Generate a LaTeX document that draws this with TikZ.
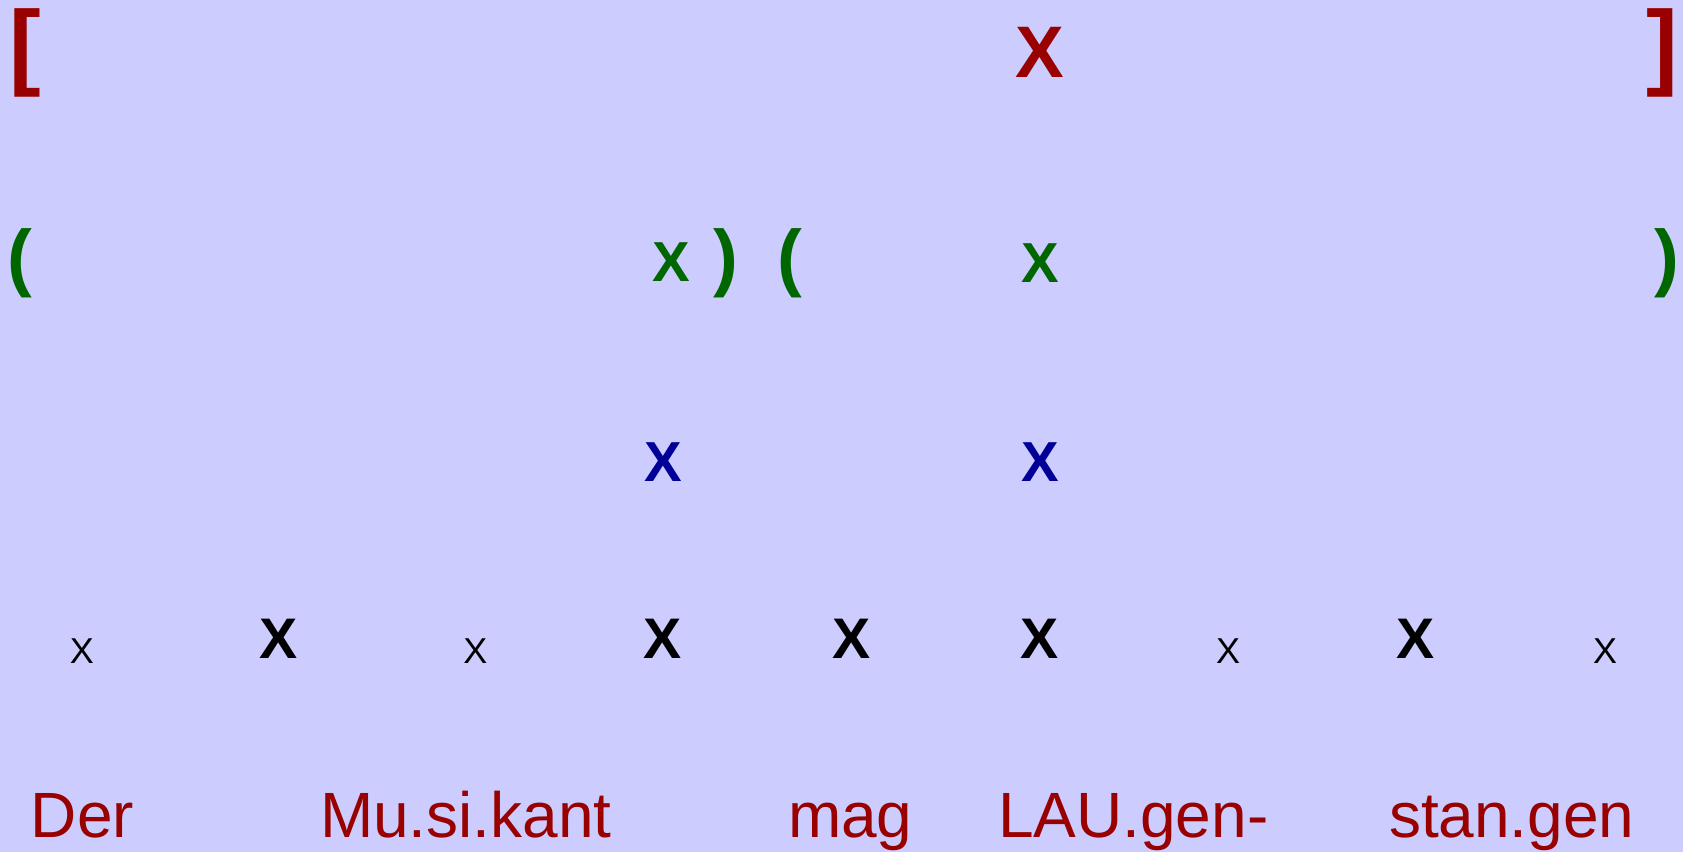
\documentclass[tikz,border=0pt]{standalone}
\usepackage{fontspec}
\setmainfont{Liberation Sans}
\definecolor{bg}{HTML}{CCCCFF}
\definecolor{dred}{HTML}{990000}
\definecolor{dgreen}{HTML}{006600}
\definecolor{dblue}{HTML}{000099}
\begin{document}
\begin{tikzpicture}[x=0.5pt,y=-0.5pt,
  every node/.style={inner sep=0pt, outer sep=0pt},
  bracket/.style={text=dred, font=\fontsize{47.5}{50}\selectfont\bfseries},
  topx/.style={text=dred, font=\fontsize{36.5}{40}\selectfont\bfseries},
  paren/.style={text=dgreen, font=\fontsize{37.2}{40}\selectfont\bfseries},
  greenx/.style={text=dgreen, font=\fontsize{28.2}{30}\selectfont\bfseries},
  bluex/.style={text=dblue, font=\fontsize{28.2}{30}\selectfont\bfseries},
  strongx/.style={text=black, font=\fontsize{28.6}{30}\selectfont\bfseries},
  weakx/.style={text=black, font=\fontsize{18}{20}\selectfont},
  word/.style={text=dred, font=\fontsize{32}{34}\selectfont, anchor=base west}]
\fill[bg] (0,0) rectangle (1683,852);
\useasboundingbox (0,0) rectangle (1683,852);
% top level
\node[bracket] (lb) at (25,52.5) {[};
\node[topx] (tx) at (1039.5,52) {X};
\node[bracket] (rb) at (1662,52.5) {]};
% feet
\node[paren] (lp1) at (19.5,263) {(};
\node[greenx] (g1) at (671.5,262.5) {X};
\node[paren] (rp1) at (725.5,263) {)};
\node[paren] (lp2) at (789.5,263) {(};
\node[greenx] (g2) at (1040,263) {X};
\node[paren] (rp2) at (1667,263) {)};
% accents
\node[bluex] (b1) at (663,462) {X};
\node[bluex] (b2) at (1040,462) {X};
% syllables
\node[weakx] (s1) at (82,651) {X};
\node[strongx] (s2) at (278.5,638.5) {X};
\node[weakx] (s3) at (475.5,651) {X};
\node[strongx] (s4) at (663,638.5) {X};
\node[strongx] (s5) at (852,638.5) {X};
\node[strongx] (s6) at (1039.5,638.5) {X};
\node[weakx] (s7) at (1228,651) {X};
\node[strongx] (s8) at (1416,638.5) {X};
\node[weakx] (s9) at (1605,651) {X};
% words
\node[word] (w1) at (31,837) {Der};
\node[word] (w2) at (320,837) {Mu.si.kant};
\node[word] (w3) at (788,837) {mag};
\node[word] (w4) at (998,837) {LAU.gen-};
\node[word] (w5) at (1389,837) {stan.gen};
\end{tikzpicture}
\end{document}
